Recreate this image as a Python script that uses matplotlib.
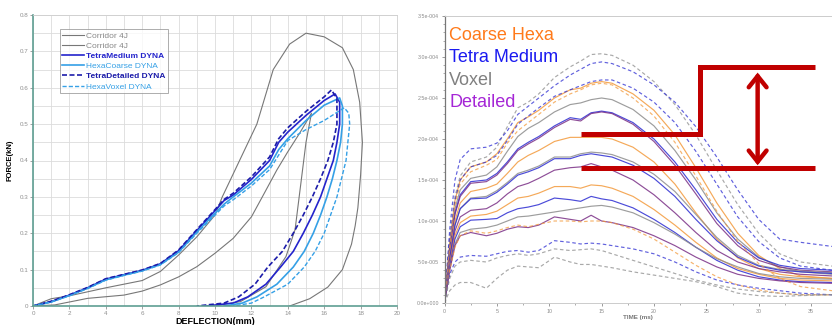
import numpy as np
import matplotlib.pyplot as plt
from matplotlib.ticker import MultipleLocator, FuncFormatter
from matplotlib.patches import FancyArrowPatch

plt.rcParams['font.family'] = ['Liberation Sans', 'DejaVu Sans']

# ---------------- left panel data (force vs deflection) ----------------
corr_up_x = [0, 1, 2, 4, 6, 7, 8, 9, 10, 10.4, 11.35, 12.3, 12.9, 13.2, 14.1, 15.0, 16.0, 17.0,
             17.6, 17.95, 18.1, 18.0, 17.85, 17.7, 17.5, 17.0, 16.2, 15.2, 14.1]
corr_up_y = [0, 0.02, 0.028, 0.05, 0.07, 0.095, 0.14, 0.19, 0.25, 0.3, 0.4, 0.5, 0.6, 0.65, 0.72, 0.75, 0.74, 0.71,
             0.65, 0.56, 0.45, 0.36, 0.27, 0.22, 0.17, 0.1, 0.052, 0.02, 0]
corr_lo_x = [0, 1.2, 3, 5, 6, 7, 8, 9, 10, 11, 12, 12.6, 13.4, 14.0, 14.65, 15.3,
             15.0, 14.7, 14.4, 13.9, 12.8, 11.4, 9.9]
corr_lo_y = [0, 0.003, 0.021, 0.03, 0.041, 0.058, 0.08, 0.108, 0.145, 0.186, 0.245, 0.3, 0.374, 0.424, 0.475, 0.53,
             0.45, 0.33, 0.21, 0.136, 0.053, 0.012, 0]

load_x = [0, 1, 2, 3, 4, 5, 6, 7, 8, 9, 10, 10.5, 11, 12, 13, 13.5, 14, 15, 16]
unload_y_td = [0.594, 0.57, 0.5, 0.45, 0.4, 0.35, 0.3, 0.25, 0.2, 0.15, 0.107, 0.06, 0.025, 0.008, 0]
unload_y_tm = [0.583, 0.56, 0.5, 0.45, 0.4, 0.35, 0.3, 0.25, 0.2, 0.15, 0.107, 0.06, 0.025, 0.008, 0]
unload_y_hc = [0.572, 0.55, 0.5, 0.45, 0.4, 0.35, 0.3, 0.25, 0.2, 0.15, 0.107, 0.06, 0.025, 0.008, 0]
unload_y_hv = [0.545, 0.53, 0.5, 0.45, 0.4, 0.35, 0.3, 0.25, 0.2, 0.15, 0.107, 0.06, 0.025, 0.008, 0]

tm_load = [0, 0.012, 0.03, 0.05, 0.074, 0.086, 0.098, 0.116, 0.152, 0.207, 0.262, 0.29, 0.305, 0.348, 0.4, 0.45, 0.478, 0.524, 0.565]
tm_unload_x = [16.6, 16.85, 16.85, 16.7, 16.5, 16.15, 15.8, 15.35, 14.85, 14.3, 13.6, 12.8, 11.8, 11.0, 9.5]
hc_load = [0, 0.011, 0.029, 0.049, 0.072, 0.085, 0.097, 0.114, 0.148, 0.203, 0.255, 0.28, 0.3, 0.338, 0.385, 0.43, 0.46, 0.51, 0.552]
hc_unload_x = [16.85, 17.0, 17.0, 16.9, 16.7, 16.45, 16.15, 15.8, 15.4, 14.9, 14.3, 13.4, 12.3, 11.5, 10.5]
td_load = [0, 0.013, 0.031, 0.051, 0.075, 0.087, 0.099, 0.117, 0.154, 0.21, 0.265, 0.293, 0.31, 0.355, 0.41, 0.46, 0.49, 0.535, 0.575]
td_unload_x = [16.4, 16.7, 16.7, 16.5, 16.2, 15.8, 15.35, 14.85, 14.3, 13.7, 12.9, 12.2, 11.3, 10.5, 9.0]
hv_load = [0, 0.011, 0.028, 0.048, 0.071, 0.084, 0.096, 0.113, 0.147, 0.2, 0.25, 0.275, 0.292, 0.33, 0.375, 0.415, 0.455, 0.485, 0.51]
hv_unload_x = [17.1, 17.35, 17.4, 17.3, 17.2, 16.95, 16.7, 16.35, 16.0, 15.5, 14.9, 14.0, 12.7, 12.0, 11.0]

# ---------------- right panel data (force x1e-4 vs time ms) ----------------
t = [0, 0.5, 1, 1.5, 2.5, 4, 5, 6, 7, 8, 9, 10.5, 12, 13, 14, 15, 16, 18, 20, 22, 24, 26, 28, 30, 32, 34, 37]

hexa_1 = [0, 0.75, 1.25, 1.5, 1.66, 1.72, 1.82, 2.0, 2.2, 2.27, 2.35, 2.5, 2.6, 2.62, 2.68, 2.70, 2.68, 2.55, 2.35, 2.05, 1.65, 1.22, 0.85, 0.58, 0.42, 0.33, 0.3]
voxel_1 = [0, 0.7, 1.15, 1.38, 1.52, 1.56, 1.66, 1.85, 2.03, 2.13, 2.2, 2.33, 2.42, 2.44, 2.48, 2.50, 2.48, 2.36, 2.16, 1.86, 1.5, 1.1, 0.78, 0.56, 0.44, 0.38, 0.35]
tetra_1 = [0, 0.65, 1.1, 1.32, 1.48, 1.5, 1.58, 1.72, 1.88, 1.96, 2.03, 2.16, 2.26, 2.24, 2.32, 2.34, 2.32, 2.2, 2.0, 1.72, 1.38, 1.02, 0.74, 0.55, 0.46, 0.42, 0.4]
detail_1 = [0, 0.63, 1.08, 1.3, 1.46, 1.48, 1.56, 1.7, 1.86, 1.94, 2.01, 2.14, 2.24, 2.22, 2.31, 2.33, 2.31, 2.18, 1.97, 1.68, 1.33, 0.97, 0.7, 0.52, 0.44, 0.4, 0.38]
hexa_2 = [0, 0.6, 1.0, 1.22, 1.36, 1.4, 1.45, 1.58, 1.72, 1.8, 1.86, 1.97, 2.02, 2.02, 2.02, 2.02, 2.0, 1.9, 1.72, 1.45, 1.1, 0.78, 0.55, 0.42, 0.35, 0.32, 0.3]
tetra_2 = [0, 0.55, 0.95, 1.15, 1.27, 1.28, 1.35, 1.45, 1.56, 1.6, 1.65, 1.76, 1.76, 1.8, 1.82, 1.8, 1.78, 1.68, 1.52, 1.3, 1.02, 0.76, 0.56, 0.45, 0.4, 0.38, 0.36]
voxel_2 = [0, 0.55, 0.95, 1.15, 1.28, 1.3, 1.37, 1.47, 1.58, 1.62, 1.67, 1.78, 1.78, 1.82, 1.84, 1.83, 1.81, 1.72, 1.57, 1.36, 1.08, 0.8, 0.58, 0.46, 0.41, 0.39, 0.37]
detail_2 = [0, 0.5, 0.88, 1.05, 1.13, 1.15, 1.22, 1.33, 1.42, 1.46, 1.52, 1.62, 1.65, 1.66, 1.70, 1.66, 1.62, 1.5, 1.32, 1.1, 0.86, 0.64, 0.5, 0.42, 0.38, 0.35, 0.33]
hexa_3 = [0, 0.48, 0.82, 0.98, 1.06, 1.08, 1.12, 1.2, 1.28, 1.3, 1.34, 1.42, 1.42, 1.40, 1.44, 1.43, 1.4, 1.3, 1.14, 0.95, 0.74, 0.55, 0.42, 0.35, 0.3, 0.28, 0.27]
tetra_3 = [0, 0.45, 0.78, 0.93, 1.01, 1.02, 1.03, 1.1, 1.15, 1.17, 1.2, 1.28, 1.26, 1.24, 1.30, 1.27, 1.25, 1.16, 1.02, 0.86, 0.68, 0.52, 0.4, 0.32, 0.28, 0.26, 0.25]
voxel_3 = [0, 0.42, 0.72, 0.86, 0.9, 0.92, 0.95, 1.0, 1.05, 1.06, 1.08, 1.11, 1.14, 1.16, 1.18, 1.19, 1.17, 1.1, 0.98, 0.84, 0.68, 0.54, 0.44, 0.36, 0.32, 0.3, 0.29]
detail_3 = [0, 0.4, 0.7, 0.82, 0.86, 0.82, 0.85, 0.9, 0.93, 0.92, 0.95, 1.05, 1.02, 1.0, 1.07, 1.0, 0.98, 0.92, 0.82, 0.7, 0.56, 0.44, 0.35, 0.3, 0.27, 0.25, 0.24]

voxel_d1 = [0, 0.8, 1.3, 1.55, 1.72, 1.78, 1.9, 2.15, 2.38, 2.45, 2.55, 2.75, 2.88, 2.95, 3.03, 3.04, 3.02, 2.9, 2.7, 2.42, 2.05, 1.62, 1.2, 0.85, 0.6, 0.5, 0.45]
tetra_d1 = [0, 0.9, 1.5, 1.75, 1.88, 1.9, 1.95, 2.1, 2.3, 2.4, 2.5, 2.65, 2.78, 2.85, 2.92, 2.94, 2.92, 2.82, 2.66, 2.45, 2.15, 1.78, 1.38, 1.02, 0.78, 0.74, 0.69]
tetra_d2 = [0, 0.75, 1.25, 1.5, 1.66, 1.72, 1.8, 1.98, 2.18, 2.28, 2.38, 2.52, 2.6, 2.65, 2.7, 2.72, 2.72, 2.62, 2.45, 2.2, 1.85, 1.45, 1.05, 0.75, 0.55, 0.45, 0.4]
hexa_d1 = [0, 0.7, 1.2, 1.45, 1.6, 1.68, 1.75, 1.95, 2.1, 2.2, 2.3, 2.45, 2.55, 2.6, 2.66, 2.68, 2.66, 2.5, 2.28, 1.96, 1.55, 1.12, 0.75, 0.48, 0.3, 0.2, 0.15]
hexa_d2 = [0, 0.4, 0.68, 0.82, 0.88, 0.85, 0.88, 0.92, 0.95, 0.93, 0.96, 1.0, 1.0, 0.99, 1.0, 1.0, 0.98, 0.9, 0.78, 0.62, 0.46, 0.32, 0.22, 0.16, 0.12, 0.1, 0.1]
tetra_d3 = [0, 0.35, 0.5, 0.56, 0.58, 0.57, 0.6, 0.63, 0.64, 0.62, 0.64, 0.76, 0.74, 0.72, 0.73, 0.72, 0.7, 0.66, 0.6, 0.5, 0.38, 0.28, 0.22, 0.18, 0.15, 0.12, 0.1]
voxel_d2 = [0, 0.3, 0.45, 0.5, 0.52, 0.5, 0.55, 0.58, 0.6, 0.58, 0.6, 0.66, 0.64, 0.65, 0.66, 0.64, 0.6, 0.52, 0.44, 0.36, 0.28, 0.22, 0.17, 0.14, 0.12, 0.1, 0.1]
voxel_d3 = [0, 0.15, 0.22, 0.25, 0.25, 0.18, 0.3, 0.4, 0.45, 0.44, 0.43, 0.56, 0.5, 0.47, 0.47, 0.45, 0.43, 0.38, 0.34, 0.3, 0.26, 0.2, 0.12, 0.09, 0.08, 0.09, 0.1]

ORANGE = '#f39a3c'
BLUE = '#2c2cd2'
GRAY = '#8c8c8c'
PURPLE = '#7a2f86'

solid_curves = [(hexa_1, ORANGE), (voxel_1, GRAY), (tetra_1, BLUE), (detail_1, PURPLE),
                (hexa_2, ORANGE), (voxel_2, GRAY), (tetra_2, BLUE), (detail_2, PURPLE),
                (hexa_3, ORANGE), (tetra_3, BLUE), (voxel_3, GRAY), (detail_3, PURPLE)]
dashed_curves = [(voxel_d1, GRAY), (tetra_d1, BLUE), (tetra_d2, BLUE), (hexa_d1, ORANGE),
                 (hexa_d2, ORANGE), (tetra_d3, BLUE), (voxel_d2, GRAY), (voxel_d3, GRAY)]

fig = plt.figure(figsize=(8.32, 3.25), dpi=100)
ax1 = fig.add_axes([33/832, 19/325, 364/832, 291/325])
ax2 = fig.add_axes([444.5/832, 22/325, 387.5/832, 287/325])

# ---- left panel ----
ax1.plot(corr_up_x, corr_up_y, color='#777777', lw=0.8, label='Corridor 4J')
ax1.plot(corr_lo_x, corr_lo_y, color='#777777', lw=0.8, label='Corridor 4J')
ax1.plot(load_x + tm_unload_x, tm_load + unload_y_tm, color='#2424cc', lw=1.2, label='TetraMedium DYNA')
ax1.plot(load_x + hc_unload_x, hc_load + unload_y_hc, color='#35a0e6', lw=1.2, label='HexaCoarse DYNA')
ax1.plot(load_x + td_unload_x, td_load + unload_y_td, color='#1c1caa', lw=1.2, ls=(0, (3, 1.5)), label='TetraDetailed DYNA')
ax1.plot(load_x + hv_unload_x, hv_load + unload_y_hv, color='#35a0e6', lw=1.0, ls=(0, (3, 1.5)), label='HexaVoxel DYNA')

ax1.set_xlim(0, 20)
ax1.set_ylim(0, 0.8)
ax1.xaxis.set_major_locator(MultipleLocator(2))
ax1.xaxis.set_minor_locator(MultipleLocator(1))
ax1.yaxis.set_major_locator(MultipleLocator(0.1))
ax1.yaxis.set_minor_locator(MultipleLocator(0.05))
ax1.grid(which='both', color='#dcdcdc', lw=0.6)
ax1.set_axisbelow(True)
ax1.xaxis.set_major_formatter(FuncFormatter(lambda v, p: f'{v:g}'))
ax1.yaxis.set_major_formatter(FuncFormatter(lambda v, p: '0' if v == 0 else f'{v:.1f}'))
ax1.tick_params(which='both', labelsize=4.5, colors='#909090', length=2, width=0.6, pad=1.5)
ax1.tick_params(which='minor', length=0)
for s in ['left', 'bottom']:
    ax1.spines[s].set_color('#5f9e92')
    ax1.spines[s].set_linewidth(1.2)
for s in ['top', 'right']:
    ax1.spines[s].set_color('#cfcfcf')
    ax1.spines[s].set_linewidth(0.6)
ax1.set_xlabel('DEFLECTION(mm)', fontsize=6.5, fontweight='bold', labelpad=1)
ax1.set_ylabel('FORCE(kN)', fontsize=5.5, fontweight='bold', labelpad=4)

leg = ax1.legend(loc='upper left', bbox_to_anchor=(0.062, 0.965), fontsize=6, frameon=True,
                 fancybox=False, edgecolor='#888888', borderpad=0.3, labelspacing=0.28,
                 handlelength=2.6, handletextpad=0.3)
leg.get_frame().set_linewidth(0.6)
text_colors = ['#888888', '#888888', '#2424cc', '#35a0e6', '#1c1caa', '#35a0e6']
for txt, c in zip(leg.get_texts(), text_colors):
    txt.set_color(c)
for txt in [leg.get_texts()[2], leg.get_texts()[4]]:
    txt.set_fontweight('bold')

# ---- right panel ----
for vals, c in solid_curves:
    ax2.plot(t, np.array(vals) * 1e-4, color=c, lw=0.85, alpha=0.85)
for vals, c in dashed_curves:
    ax2.plot(t, np.array(vals) * 1e-4, color=c, lw=0.85, alpha=0.75, ls=(0, (3, 2.2)))

ax2.set_xlim(0, 37)
ax2.set_ylim(0, 3.5e-4)
ax2.xaxis.set_major_locator(MultipleLocator(5))
ax2.xaxis.set_minor_locator(MultipleLocator(2.5))
ax2.yaxis.set_major_locator(MultipleLocator(0.5e-4))
ax2.yaxis.set_minor_locator(MultipleLocator(0.1e-4))


def sci(v, pos):
    m, e = f'{v:.1e}'.split('e')
    return f'{m}e{int(e):+04d}'


ax2.yaxis.set_major_formatter(FuncFormatter(sci))
ax2.xaxis.set_major_formatter(FuncFormatter(lambda v, p: f'{v:g}'))
ax2.tick_params(which='major', labelsize=3.8, colors='#8a8a8a', length=2.5, width=0.6, pad=1.5)
ax2.tick_params(which='minor', colors='#8a8a8a', length=1.5, width=0.5)
ax2.spines['left'].set_color('#777777')
ax2.spines['left'].set_linewidth(0.9)
for s in ['top', 'bottom']:
    ax2.spines[s].set_color('#cccccc')
    ax2.spines[s].set_linewidth(0.7)
ax2.spines['right'].set_visible(False)
ax2.set_xlabel('TIME (ms)', fontsize=4.5, fontweight='bold', color='#777777', labelpad=1)

labels = ['Coarse Hexa', 'Tetra Medium', 'Voxel', 'Detailed']
label_colors = ['#ff7a1a', '#1a1af0', '#808080', '#a526d6']
for i, (lab, c) in enumerate(zip(labels, label_colors)):
    ax2.text(0.012, 0.962 - i * 0.078, lab, transform=ax2.transAxes, fontsize=13,
             color=c, va='top', ha='left')

# red step markers
RED = '#c00000'
ax2.plot([13.0, 24.4, 24.4, 35.4], [2.06e-4, 2.06e-4, 2.88e-4, 2.88e-4], color=RED, lw=3.6,
         solid_joinstyle='miter', solid_capstyle='butt', clip_on=False)
ax2.plot([13.0, 35.4], [1.65e-4, 1.65e-4], color=RED, lw=3.6, solid_capstyle='butt', clip_on=False)
arr = FancyArrowPatch((29.9, 2.81e-4), (29.9, 1.68e-4), arrowstyle='<->,head_length=5,head_width=4',
                      color=RED, lw=3.2, mutation_scale=1.6, shrinkA=0, shrinkB=0,
                      joinstyle='miter', capstyle='round')
ax2.add_patch(arr)

fig.savefig('out.png', dpi=100)
